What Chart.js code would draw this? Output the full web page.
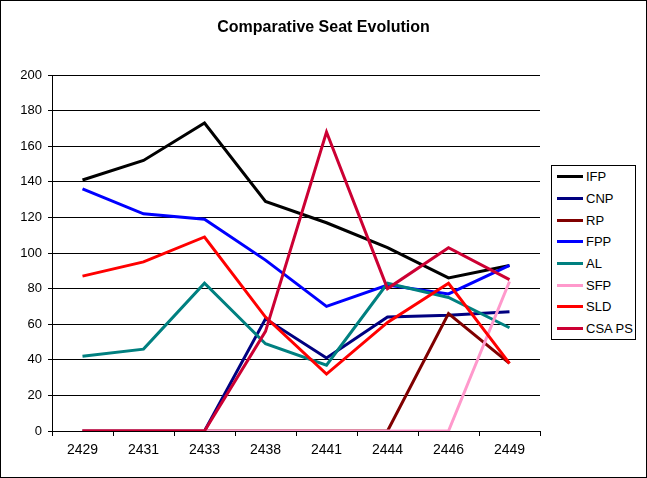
<!DOCTYPE html>
<html>
<head>
<meta charset="utf-8">
<script src="https://cdn.jsdelivr.net/npm/chart.js@4.4.0/dist/chart.umd.min.js"></script>
<style>
  body { margin: 0; background: #fff; }
  #wrap { position: relative; width: 647px; height: 478px; }
  #legend {
    position: absolute; left: 551px; top: 165px; width: 85px; height: 175px;
    border: 1px solid #000; box-sizing: border-box; background: #fff;
    font-family: Arial, "Liberation Sans", sans-serif; font-size: 13px;
    padding-top: 0;
  }
  .item { display: flex; align-items: center; height: 21.7px; }
  .swatch { width: 26px; height: 3px; margin-left: 5px; margin-right: 3px; }
</style>
</head>
<body>
<div id="wrap">
  <canvas id="seats" width="647" height="478"></canvas>
  <div id="legend"></div>
</div>
<script>
// election years (Buddhist era)
const years = ['2429', '2431', '2433', '2438', '2441', '2444', '2446', '2449'];

const ifp   = [141, 152, 173, 129, 117, 103, 86, 93];
const cnp   = [0, 0, 0, 63, 41, 64, 65, 67];
const rp    = [0, 0, 0, 0, 0, 0, 66, 38];
const fpp   = [136, 122, 119, 96, 70, 82, 77, 93];
const al    = [42, 46, 83, 49, 37, 83, 75, 58];
const sfp   = [0, 0, 0, 0, 0, 0, 0, 84];
const sld   = [87, 95, 109, 64, 32, 61, 83, 38];
const csaps = [0, 0, 0, 56, 168, 80, 103, 85];

const yTicks = [0, 20, 40, 60, 80, 100, 120, 140, 160, 180, 200];

const seriesNames  = ['IFP', 'CNP', 'RP', 'FPP', 'AL', 'SFP', 'SLD', 'CSA PS'];
const seriesValues = [ifp, cnp, rp, fpp, al, sfp, sld, csaps];
const seriesColors = ['#000000', '#000080', '#800000', '#0000ff', '#008080', '#ff99cc', '#ff0000', '#cc0033'];

const chartTitle = 'Comparative Seat Evolution';
const font = "Arial, 'Liberation Sans', sans-serif";

// later series are painted over earlier ones, like the original
const datasets = seriesNames.map((name, i) => ({
    label: name,
    data: seriesValues[i],
    borderColor: seriesColors[i],
    backgroundColor: seriesColors[i],
    borderWidth: 3,
    pointRadius: 0,
    tension: 0,
    order: seriesNames.length - i
}));

// outer border + title centred on the whole picture (not the plot)
const frame = {
    id: 'frame',
    afterDraw(chart) {
        const c = chart.ctx;
        c.save();
        c.strokeStyle = '#000';
        c.lineWidth = 1;
        c.strokeRect(0.5, 0.5, chart.width - 1, chart.height - 1);
        c.fillStyle = '#000';
        c.font = 'bold 16px ' + font;
        c.textAlign = 'center';
        c.textBaseline = 'middle';
        c.fillText(chartTitle, chart.width / 2, 28);
        c.restore();
    }
};

new Chart(document.getElementById('seats'), {
    type: 'line',
    data: { labels: years, datasets: datasets },
    options: {
        responsive: false,
        animation: false,
        layout: { padding: { left: 0, right: 107, top: 75, bottom: 0 } },
        plugins: {
            legend: { display: false },
            tooltip: { enabled: false },
            title: { display: false }
        },
        scales: {
            x: {
                offset: true,
                grid: {
                    offset: true,
                    drawOnChartArea: false,
                    color: '#000',
                    tickLength: 5
                },
                border: { color: '#000', width: 1 },
                ticks: { color: '#000', font: { family: font, size: 14 }, padding: 6, maxRotation: 0 },
                afterFit(scale) { scale.height = 47; }
            },
            y: {
                min: 0,
                max: 200,
                afterBuildTicks(scale) { scale.ticks = yTicks.map(v => ({ value: v })); },
                grid: { color: '#000', tickLength: 4 },
                border: { color: '#000', width: 1 },
                ticks: { color: '#000', font: { family: font, size: 13 }, padding: 6 },
                afterFit(scale) { scale.width = 52; }
            }
        }
    },
    plugins: [frame]
});

// legend box on the right
const legend = document.getElementById('legend');
seriesNames.forEach((name, i) => {
    const row = document.createElement('div');
    row.className = 'item';
    row.innerHTML = '<span class="swatch" style="background:' + seriesColors[i] + '"></span>' + name;
    legend.appendChild(row);
});
</script>
</body>
</html>
